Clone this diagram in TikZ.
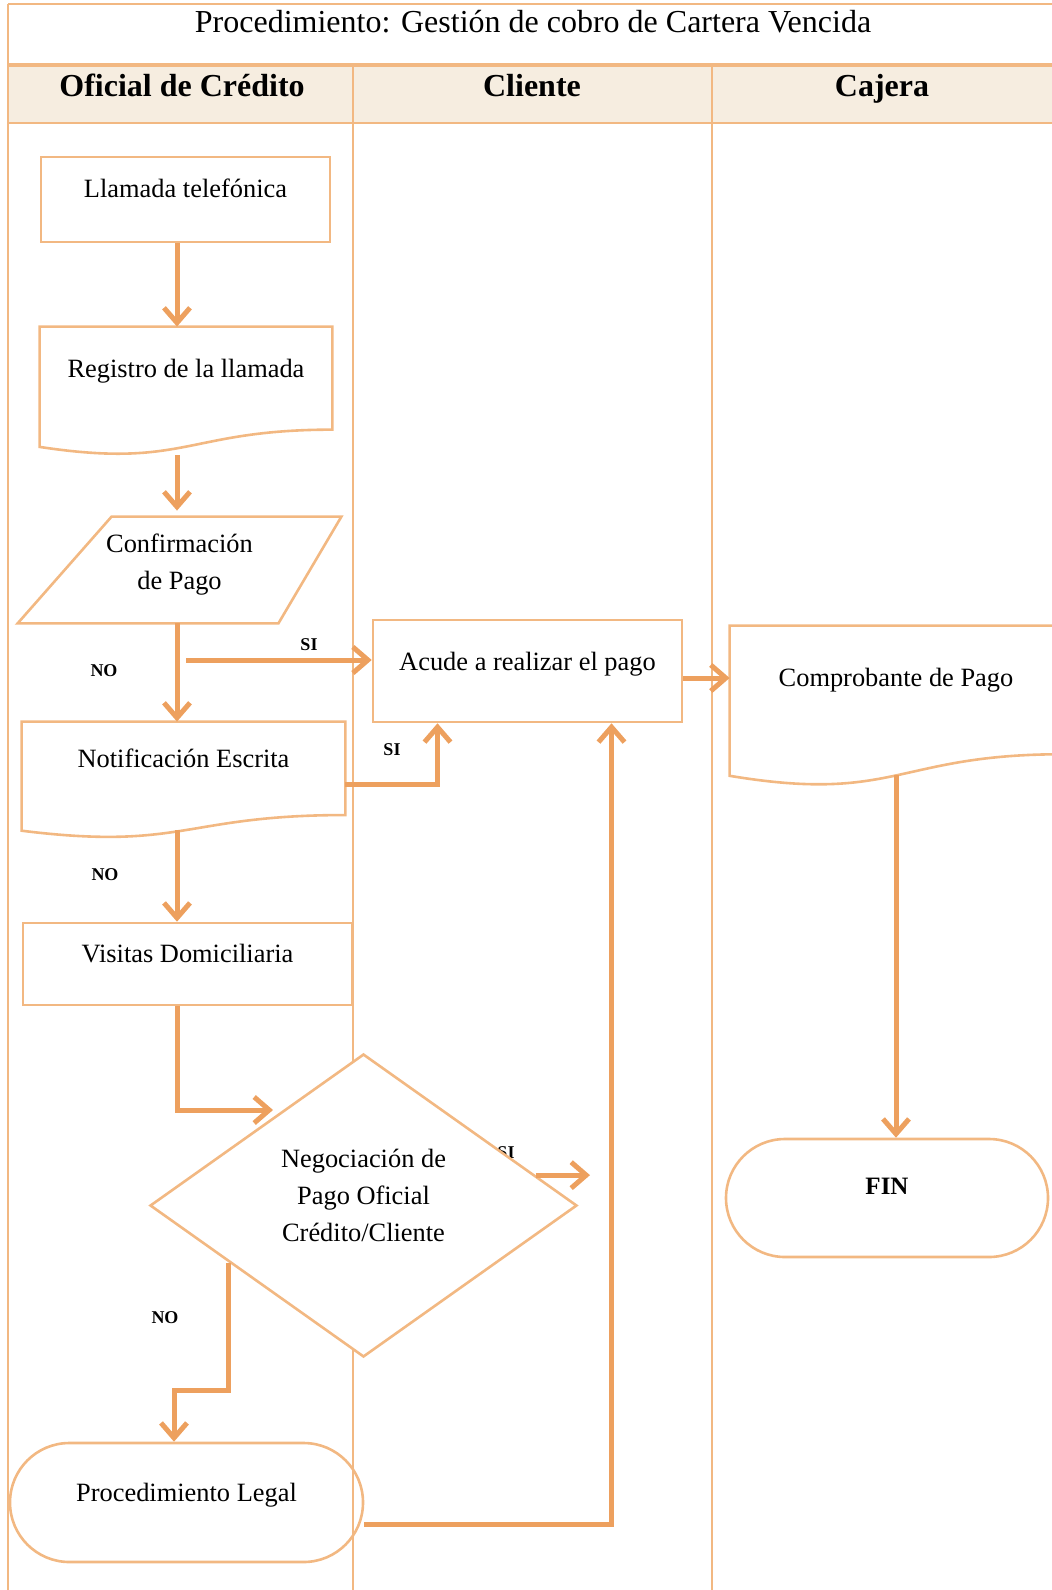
\documentclass[tikz,border=0pt]{standalone}
\usepackage{fontspec}
\setmainfont{Liberation Serif}
\usetikzlibrary{calc,shapes.geometric,arrows.meta}

\definecolor{naranja}{RGB}{237,160,94}
\definecolor{borde}{RGB}{242,184,130}
\definecolor{crema}{RGB}{246,237,224}

\begin{document}
\begin{tikzpicture}[x=0.5pt,y=-0.5pt,
        caja/.style={draw=borde, line width=1.3pt},
        texto/.style={inner sep=0pt, font=\fontsize{13.2}{18.5}\selectfont},
        flecha/.style={draw=naranja, line width=2.5pt, -{Straight Barb[length=7.5pt,width=13pt]}},
        etiqueta/.style={font=\fontsize{9}{9}\bfseries\selectfont},
        carril/.style={draw=borde, line width=1pt}]
        \useasboundingbox (0,0) rectangle (1052,1590);

        % Eje de las flechas verticales
        \def\ejex{177}
        \coordinate (eje) at (\ejex,0);

        % Carriles
        \fill[crema] (8,65) rectangle (1052,123);
        \draw[carril] (8,4) -- (1052,4);
        \draw[carril] (8,4) -- (8,1590);
        \draw[borde, line width=2.4pt] (8,65) -- (1052,65);
        \draw[carril] (8,123) -- (1052,123);
        \foreach \x in {353,712}
            \draw[carril] (\x,65) -- (\x,1590);

        % Titulos
        \node[font=\fontsize{16}{16}\selectfont] (titulo) at (533,22) {Procedimiento: Gestión de cobro de Cartera Vencida};
        \foreach \x/\nombre/\rol in {182/oficial/Oficial de Crédito, 532/cliente/Cliente, 882/cajera/Cajera}
            \node[anchor=base, font=\fontsize{16}{16}\bfseries\selectfont] (\nombre) at (\x,96) {\rol};

        % Nodos
        \node[caja, texto, minimum width=144.5pt, text height=20pt, text depth=22.5pt] (llamada) at (185.5,199.5) {Llamada telefónica};
        \node[texto, minimum width=146pt, text height=25pt, text depth=39pt] (registro) at (186,391) {Registro de la llamada};
        \node[texto, align=center, minimum width=161.5pt, text height=36pt, text depth=17pt] (conf) at (179.5,570) {Confirmación\\de Pago};
        \node[caja, texto, minimum width=154.5pt, text height=25pt, text depth=26pt] (acude) at (527.5,671) {Acude a realizar el pago};
        \node[texto, minimum width=166pt, text height=30pt, text depth=50pt] (comp) at (896,706) {Comprobante de Pago};
        \node[texto, minimum width=161.5pt, text height=22.5pt, text depth=35.5pt] (notif) at (183.5,780) {Notificación Escrita};
        \node[caja, texto, minimum width=164.5pt, text height=19.5pt, text depth=21.5pt] (visitas) at (187.5,964) {Visitas Domiciliaria};
        \node[caja, texto, rounded corners=29.5pt, minimum width=161pt, text height=27.5pt, text depth=31.5pt, font=\fontsize{12.5}{12.5}\bfseries\selectfont] (fin) at (887,1198) {FIN};
        \node[caja, texto, rounded corners=29.7pt, minimum width=176.5pt, text height=29pt, text depth=30.5pt] (legal) at (186.5,1502.5) {Procedimiento Legal};

        % Etiqueta tapada por el rombo
        \node[etiqueta] (siD) at (506,1153) {SI};
        \node[caja, texto, diamond, aspect=1.4, fill=white, align=center, minimum width=213.5pt, minimum height=151.5pt, text height=50pt, text depth=14.5pt] (neg) at (363.5,1205.5) {Negociación de\\Pago Oficial\\Crédito/Cliente};

        % Documentos (borde ondulado)
        \foreach \n in {registro,notif,comp}
            \draw[caja] (\n.north west) -- (\n.north east) -- ($(\n.north east)!0.8!(\n.south east)$)
                .. controls ($(\n.north)!0.8!(\n.south)$) and ($(\n.north)!1.107!(\n.south)$) .. ($(\n.north west)!0.934!(\n.south west)$)
                coordinate[pos=0.5] (\n-b) -- cycle;

        % Entrada de datos
        \draw[caja] ([xshift=47pt]conf.north west) -- (conf.north east) -- ([xshift=-31.5pt]conf.south east) -- (conf.south west) -- cycle;

        % Flechas
        \coordinate (inicioSI) at (186,660);
        \coordinate (pago) at (0,678);
        \coordinate (negIn) at (273,1110);
        \coordinate (negSI) at (590,0);
        \coordinate (paso) at (174,1390);
        \draw[flecha] (llamada.south -| eje) -- (registro.north -| eje);
        \draw[flecha, shorten >=3pt] (registro.south -| eje) -- (conf.north -| eje);
        \draw[flecha] (conf.south -| eje) -- (notif.north -| eje);
        \draw[flecha] (inicioSI) -- (inicioSI -| acude.west);
        \draw[flecha] (acude.east |- pago) -- (comp.west |- pago);
        \draw[flecha] (comp-b) -- (comp-b |- fin.north);
        \draw[flecha] ([yshift=-2pt]notif.east) -| ([xshift=-45pt]acude.south);
        \draw[flecha] (notif-b -| eje) -- (visitas.north -| eje);
        \draw[flecha] (visitas.south -| eje) |- (negIn);
        \draw[flecha] (neg.10) -- (neg.10 -| negSI);
        \draw[flecha] (neg.203) |- (paso) -- (paso |- legal.north);
        \draw[flecha] ([yshift=-11pt]legal.east) -| ([xshift=42pt]acude.south);

        % Etiquetas SI / NO
        \node[etiqueta] (noA) at (104,671) {NO};
        \node[etiqueta] (siA) at (309,645) {SI};
        \node[etiqueta] (siB) at (392,750) {SI};
        \node[etiqueta] (noB) at (105,875) {NO};
        \node[etiqueta] (noC) at (165,1318) {NO};
    \end{tikzpicture}
\end{document}
